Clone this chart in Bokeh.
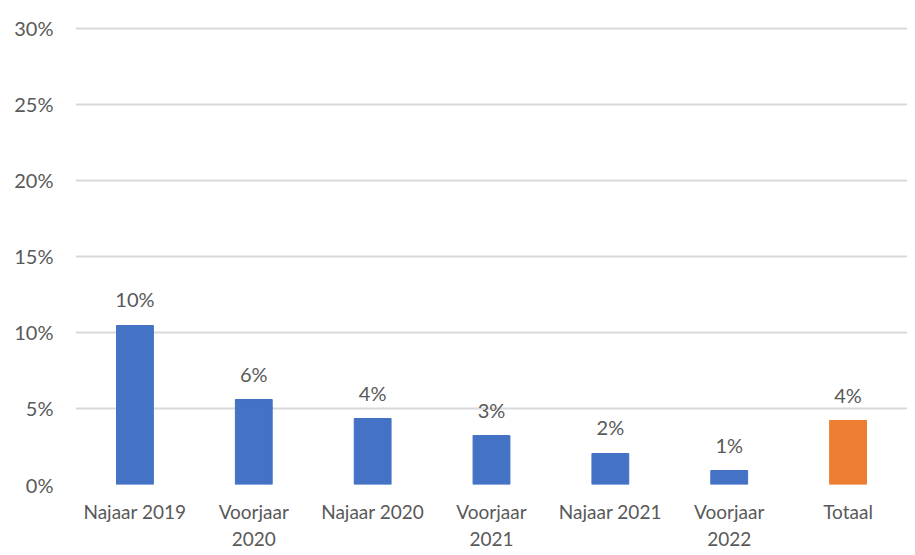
from bokeh.plotting import figure
from bokeh.models import ColumnDataSource, FixedTicker, NumeralTickFormatter, Range1d
from bokeh.embed import file_html
from bokeh.resources import INLINE
from bokeh.core.properties import value

categories = ["Najaar 2019", "Voorjaar\n2020", "Najaar 2020", "Voorjaar\n2021",
              "Najaar 2021", "Voorjaar\n2022", "Totaal"]
values = [0.1046, 0.0559, 0.0434, 0.0322, 0.0204, 0.0092, 0.0421]
colors = ["#4472C4"] * 6 + ["#ED7D31"]
y_ticks = [0, 0.05, 0.10, 0.15, 0.20, 0.25, 0.30]

xs = list(range(len(categories)))
labels = [f"{round(v * 100):.0f}%" for v in values]
src = ColumnDataSource(dict(x=xs, top=values, color=colors, label=labels))

FONT = "Lato"
TXT = "#595959"

p = figure(frame_width=832, frame_height=458, output_backend="svg", toolbar_location=None,
           x_range=Range1d(-0.5, len(categories) - 0.5), y_range=Range1d(0, 0.3013),
           min_border_left=75, min_border_right=0, min_border_top=26, min_border_bottom=0)
p.outline_line_color = None
p.background_fill_color = "white"
p.border_fill_color = "white"

p.vbar(x="x", top="top", width=0.31, color="color", source=src)
p.text(x="x", y="top", text="label", source=src, text_align="center",
       text_baseline="bottom", y_offset=-14, text_font=value(FONT),
       text_font_size="20px", text_color=TXT)

p.xgrid.grid_line_color = None
p.ygrid.grid_line_color = "#D9D9D9"
p.ygrid.grid_line_width = 2
p.yaxis.ticker = FixedTicker(ticks=y_ticks)
p.yaxis.formatter = NumeralTickFormatter(format="0%")
p.xaxis.ticker = FixedTicker(ticks=xs)
p.xaxis.major_label_overrides = {i: c for i, c in enumerate(categories)}

for ax in (p.xaxis[0], p.yaxis[0]):
    ax.axis_line_color = None
    ax.major_tick_line_color = None
    ax.minor_tick_line_color = None
    ax.major_label_text_font = FONT
    ax.major_label_text_font_size = "20px"
    ax.major_label_text_color = TXT
p.xaxis.major_label_text_font_size = "19px"
p.yaxis.major_label_standoff = 16
p.xaxis.major_label_standoff = 9

open("out.html", "w").write(file_html(p, INLINE))
